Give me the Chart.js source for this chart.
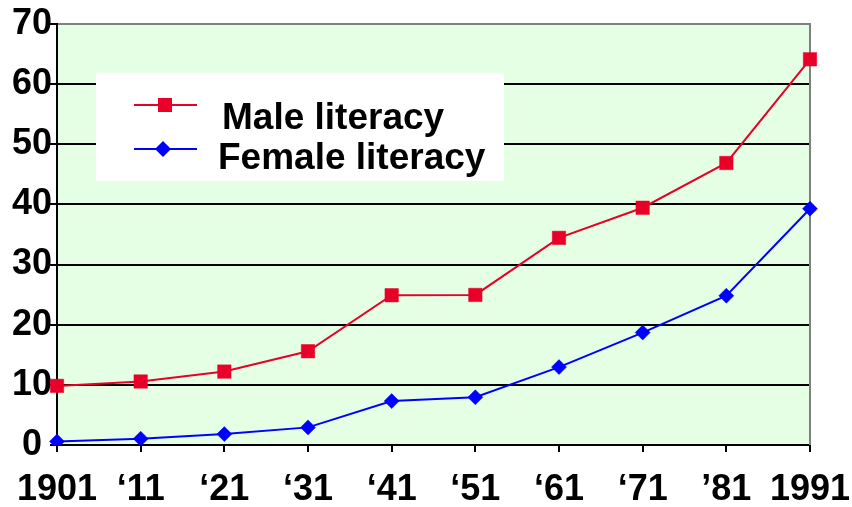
<!DOCTYPE html>
<html>
<head>
<meta charset="utf-8">
<script src="https://cdn.jsdelivr.net/npm/chart.js@4/dist/chart.umd.min.js"></script>
<style>
  html, body { margin: 0; padding: 0; background: #ffffff; }
  #wrap { width: 852px; height: 507px; }
</style>
</head>
<body>
<div id="wrap"><canvas id="c" width="852" height="507"></canvas></div>
<script>
// Census years (x axis labels)
const censusYears = ['1901', '\u201811', '\u201821', '\u201831', '\u201841', '\u201851', '\u201861', '\u201871', '\u201981', '1991'];
// Literacy rate, per cent
const maleLiteracy = [9.83, 10.56, 12.21, 15.59, 24.9, 24.95, 34.44, 39.45, 46.89, 64.13];
const femaleLiteracy = [0.6, 1.05, 1.81, 2.93, 7.3, 7.93, 12.95, 18.69, 24.82, 39.29];
// Value axis range
const yMin = 0;
const yMax = 70;
const yStep = 10;

const FONT = '"Liberation Sans", Arial, Helvetica, sans-serif';
const RED = 'rgb(232,0,40)';
const BLUE = 'rgb(0,0,255)';
const PLOT_BG = 'rgb(229,255,229)';

// Light green plot background
const plotBackground = {
  id: 'plotBackground',
  beforeDraw(chart) {
    const { ctx, chartArea: a } = chart;
    ctx.save();
    ctx.fillStyle = PLOT_BG;
    ctx.fillRect(a.left, a.top, a.right - a.left, a.bottom - a.top);
    ctx.restore();
  }
};

// Right frame edge and the boxed legend inside the plot
const frameAndLegend = {
  id: 'frameAndLegend',
  beforeDatasetsDraw(chart) {
    const { ctx, chartArea: a } = chart;
    ctx.save();
    ctx.strokeStyle = '#808080';
    ctx.lineWidth = 2;
    ctx.beginPath();
    ctx.moveTo(a.right, a.top - 1);
    ctx.lineTo(a.right, a.bottom);
    ctx.stroke();

    // legend box
    ctx.fillStyle = '#ffffff';
    ctx.fillRect(96, 73, 408, 108);

    const rows = [
      { ds: chart.data.datasets[0], lineY: 105, markX: 165, textX: 222, textY: 129 },
      { ds: chart.data.datasets[1], lineY: 149, markX: 163, textX: 218, textY: 169 }
    ];
    rows.forEach(r => {
      ctx.strokeStyle = r.ds.borderColor;
      ctx.lineWidth = 2;
      ctx.beginPath();
      ctx.moveTo(134, r.lineY);
      ctx.lineTo(197, r.lineY);
      ctx.stroke();
      ctx.fillStyle = r.ds.backgroundColor;
      ctx.beginPath();
      if (r.ds.pointStyle === 'rect') {
        ctx.rect(r.markX - 7, r.lineY - 7, 14, 14);
      } else {
        const d = 8;
        ctx.moveTo(r.markX - d, r.lineY);
        ctx.lineTo(r.markX, r.lineY - d);
        ctx.lineTo(r.markX + d, r.lineY);
        ctx.lineTo(r.markX, r.lineY + d);
        ctx.closePath();
      }
      ctx.fill();
      ctx.fillStyle = '#000000';
      ctx.font = 'bold 37px ' + FONT;
      ctx.textBaseline = 'alphabetic';
      ctx.textAlign = 'left';
      ctx.fillText(r.ds.label, r.textX, r.textY);
    });
    ctx.restore();
  }
};

new Chart(document.getElementById('c'), {
  type: 'line',
  data: {
    labels: censusYears,
    datasets: [
      {
        label: 'Male literacy',
        data: maleLiteracy,
        borderColor: RED,
        backgroundColor: RED,
        borderWidth: 2,
        pointStyle: 'rect',
        pointRadius: 9.5,
        pointBorderWidth: 0.5,
        tension: 0,
        fill: false
      },
      {
        label: 'Female literacy',
        data: femaleLiteracy,
        borderColor: BLUE,
        backgroundColor: BLUE,
        borderWidth: 2,
        pointStyle: 'rectRot',
        pointRadius: 7.5,
        pointBorderWidth: 0.5,
        tension: 0,
        fill: false
      }
    ]
  },
  options: {
    responsive: false,
    maintainAspectRatio: false,
    devicePixelRatio: 1,
    animation: false,
    layout: { padding: { top: 24, right: 42, left: 0, bottom: 0 } },
    plugins: {
      legend: { display: false },
      tooltip: { enabled: false }
    },
    scales: {
      x: {
        type: 'category',
        offset: false,
        grid: {
          drawOnChartArea: false,
          drawTicks: true,
          tickLength: 7,
          color: '#000000',
          lineWidth: 2
        },
        border: { display: true, color: '#000000', width: 2 },
        ticks: {
          color: '#000000',
          font: { family: FONT, size: 36, weight: 'bold' },
          autoSkip: false,
          maxRotation: 0,
          minRotation: 0,
          padding: 16
        },
        afterFit(scale) {
          scale.height = 62;
          scale.paddingLeft = 0;
          scale.paddingRight = 0;
        }
      },
      y: {
        min: yMin,
        max: yMax,
        grid: {
          color: ctx => (ctx.tick && ctx.tick.value === yMax ? '#808080' : '#000000'),
          tickColor: '#000000',
          lineWidth: 2,
          tickLength: 7
        },
        border: { display: true, color: '#000000', width: 2 },
        ticks: {
          stepSize: yStep,
          color: '#000000',
          crossAlign: 'center',
          padding: -2,
          font: { family: FONT, size: 36, weight: 'bold' }
        },
        afterFit(scale) { scale.width = 57; }
      }
    }
  },
  plugins: [plotBackground, frameAndLegend]
});
</script>
</body>
</html>
